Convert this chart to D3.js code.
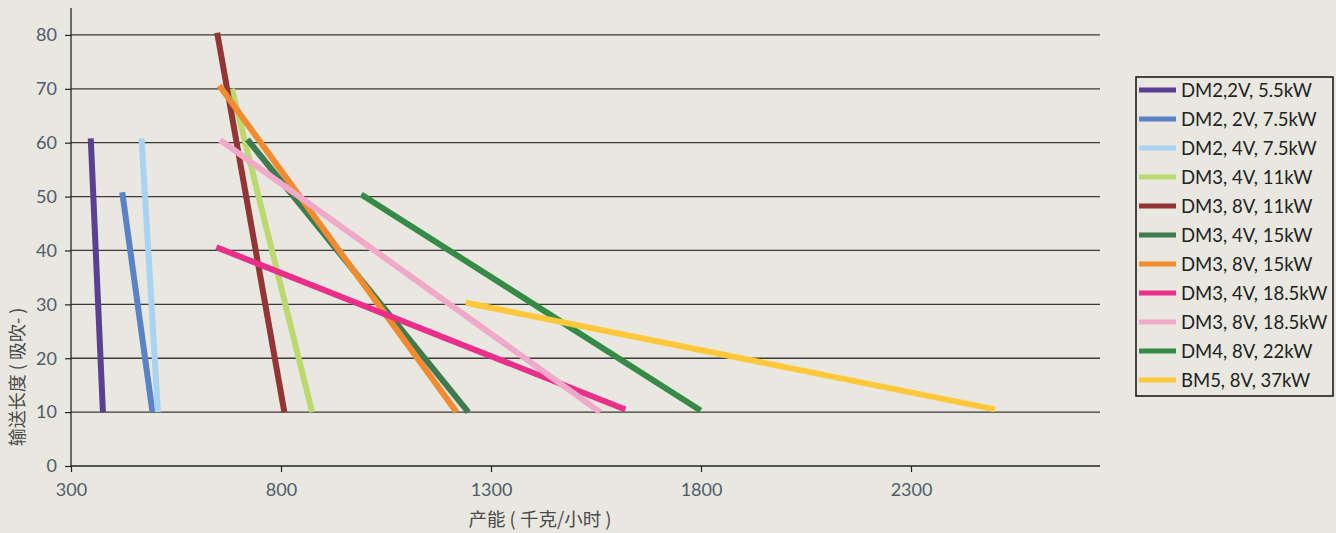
<!DOCTYPE html>
<html>
<head>
<meta charset="utf-8">
<script src="https://cdn.jsdelivr.net/npm/d3@7"></script>
<style>
  html, body { margin: 0; padding: 0; background: #e8e7e0; }
  svg { display: block; }
</style>
</head>
<body>
<svg id="chart" width="1336" height="533"></svg>
<script>
// Series names, colours and end points (capacity kg/h, conveying length)
var names = ["DM2,2V, 5.5kW", "DM2, 2V, 7.5kW", "DM2, 4V, 7.5kW", "DM3, 4V, 11kW",
             "DM3, 8V, 11kW", "DM3, 4V, 15kW", "DM3, 8V, 15kW", "DM3, 4V, 18.5kW",
             "DM3, 8V, 18.5kW", "DM4, 8V, 22kW", "BM5, 8V, 37kW"];
var colors = ["#5a3f92", "#5b82c4", "#a9d3f3", "#bbd96f", "#943535", "#3f7b4f",
              "#f28a30", "#e92f89", "#f1a9c9", "#358b45", "#ffc83a"];
var startX = [347, 422, 468, 683, 648, 720, 653, 646, 655, 991, 1240];
var startY = [60.8, 50.8, 60.8, 70, 80.4, 60.6, 70.6, 40.6, 60.5, 50.4, 30.3];
var endX   = [376, 494, 507, 874, 808, 1246, 1218, 1620, 1560, 1799, 2500];
var endY   = [10, 10, 10, 10, 10, 10, 10, 10.5, 10, 10.3, 10.5];

var xTicks = [300, 800, 1300, 1800, 2300];
var yTicks = [0, 10, 20, 30, 40, 50, 60, 70, 80];

var svg = d3.select("#chart");
var mLeft = 71, mRight = 1100, mTop = 8, mBottom = 466;

var x = d3.scaleLinear().domain([300, 2750]).range([mLeft, mRight]);
var y = d3.scaleLinear().domain([0, 85]).range([mBottom, mTop]);

// gridlines
svg.append("g")
  .selectAll("line")
  .data(yTicks.filter(function(d) { return d > 0; }))
  .enter().append("line")
  .attr("x1", mLeft).attr("x2", mRight)
  .attr("y1", function(d) { return y(d); })
  .attr("y2", function(d) { return y(d); })
  .attr("stroke", "#3a3a3a")
  .attr("stroke-width", 1.3);

// axes
var xAxis = svg.append("g")
  .attr("transform", "translate(0," + mBottom + ")")
  .call(d3.axisBottom(x).tickValues(xTicks).tickSize(6).tickPadding(11).tickFormat(d3.format("d")));
var yAxis = svg.append("g")
  .attr("transform", "translate(" + mLeft + ",0)")
  .call(d3.axisLeft(y).tickValues(yTicks).tickSize(6).tickPadding(8));

[xAxis, yAxis].forEach(function(a) {
  a.select(".domain").attr("stroke", "#222").attr("stroke-width", 1.3);
  a.selectAll(".tick line").attr("stroke", "#222").attr("stroke-width", 1.2);
  a.selectAll("text")
    .attr("fill", "#4f5b6b")
    .style("font-family", "Lato, 'Noto Sans', sans-serif")
    .style("font-size", "18px");
});
xAxis.select(".domain").attr("d", "M" + mLeft + ",0H" + mRight);
yAxis.select(".domain").attr("d", "M0," + mTop + "V" + mBottom);

// series lines
var lines = names.map(function(n, i) {
  return { name: n, color: colors[i], pts: [[startX[i], startY[i]], [endX[i], endY[i]]] };
});
var line = d3.line().x(function(d) { return x(d[0]); }).y(function(d) { return y(d[1]); });

svg.append("g")
  .selectAll("path")
  .data(lines)
  .enter().append("path")
  .attr("d", function(d) { return line(d.pts); })
  .attr("fill", "none")
  .attr("stroke", function(d) { return d.color; })
  .attr("stroke-width", 6);

// axis titles
svg.append("text")
  .attr("x", 540).attr("y", 526)
  .attr("text-anchor", "middle")
  .attr("fill", "#4a4a4a")
  .style("font-family", "'Noto Sans CJK SC', sans-serif")
  .style("font-size", "18.5px")
  .text("产能 ( 千克/小时 )");

svg.append("text")
  .attr("transform", "translate(24,377) rotate(-90)")
  .attr("text-anchor", "middle")
  .attr("fill", "#4a4a4a")
  .style("font-family", "'Noto Sans CJK SC', sans-serif")
  .style("font-size", "18px")
  .text("输送长度 ( 吸吹- )");

// legend
var legend = svg.append("g").attr("transform", "translate(1136,77)");
legend.append("rect")
  .attr("width", 197).attr("height", 319)
  .attr("fill", "#e8e7e0")
  .attr("stroke", "#111").attr("stroke-width", 1.5);

var items = legend.selectAll(".item")
  .data(lines)
  .enter().append("g")
  .attr("class", "item")
  .attr("transform", function(d, i) { return "translate(0," + (13 + i * 29) + ")"; });

items.append("line")
  .attr("x1", 3).attr("x2", 40)
  .attr("stroke", function(d) { return d.color; })
  .attr("stroke-width", 5);

items.append("text")
  .attr("x", 45).attr("y", 7)
  .attr("fill", "#222")
  .style("font-family", "Lato, 'Noto Sans', sans-serif")
  .style("font-size", "18.5px")
  .text(function(d) { return d.name; });
</script>
</body>
</html>
